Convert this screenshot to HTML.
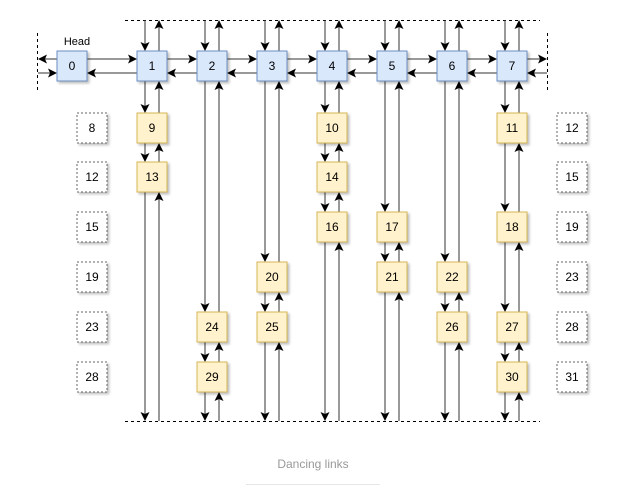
<!DOCTYPE html>
<html><head><meta charset="utf-8"><style>
html,body{margin:0;padding:0;background:#fff;width:643px;height:485px;overflow:hidden}
svg{display:block;font-family:"Liberation Sans",Arial,sans-serif}
</style></head><body>
<svg id="s" width="643" height="485" viewBox="0 0 643 485" xmlns="http://www.w3.org/2000/svg">
<defs>
<marker id="a" markerWidth="9" markerHeight="9" refX="8" refY="4.5" orient="auto" markerUnits="userSpaceOnUse"><path d="M0,0 L9,4.5 L0,9 L2,4.5 Z" fill="#000"/></marker>
<filter id="sh" x="-20%" y="-20%" width="160%" height="160%"><feDropShadow dx="2" dy="2" stdDeviation="1.2" flood-color="#000" flood-opacity="0.25"/></filter>
</defs>
<g stroke="#000" stroke-dasharray="3,3" stroke-width="1" fill="none">
<line x1="125" y1="20.5" x2="540" y2="20.5"/>
<line x1="125" y1="421.5" x2="540" y2="421.5"/>
<line x1="37.5" y1="33" x2="37.5" y2="91"/>
<line x1="547.5" y1="33" x2="547.5" y2="91"/>
</g>
<g id="L" stroke="#333" stroke-width="1" fill="none"></g>
<g id="B"></g>
<text x="77" y="45" font-size="11" text-anchor="middle" fill="#000">Head</text>
<text x="313" y="468" font-size="12" text-anchor="middle" fill="#999">Dancing links</text>
<line x1="246" y1="484.5" x2="380" y2="484.5" stroke="#e6e6e6"/>
</svg>
<script>
const NS="http://www.w3.org/2000/svg";
const L=document.getElementById('L'),B=document.getElementById('B');
function ln(x1,y1,x2,y2){const e=document.createElementNS(NS,'line');e.setAttribute('x1',x1);e.setAttribute('y1',y1);e.setAttribute('x2',x2);e.setAttribute('y2',y2);e.setAttribute('marker-end','url(#a)');L.appendChild(e);}
function box(cx,cy,t,type){
 const r=document.createElementNS(NS,'rect');r.setAttribute('x',cx-15);r.setAttribute('y',cy-15);r.setAttribute('width',30);r.setAttribute('height',30);
 if(type=='h'){r.setAttribute('fill','#dae8fc');r.setAttribute('stroke','#6c8ebf');}
 else if(type=='n'){r.setAttribute('fill','#fff2cc');r.setAttribute('stroke','#d6b656');}
 else {r.setAttribute('fill','#fff');r.setAttribute('stroke','#666');r.setAttribute('stroke-dasharray','2,2');}
 r.setAttribute('filter','url(#sh)');B.appendChild(r);
 const tx=document.createElementNS(NS,'text');tx.setAttribute('x',cx);tx.setAttribute('y',cy+4);tx.setAttribute('font-size','12');tx.setAttribute('text-anchor','middle');tx.textContent=t;B.appendChild(tx);
}
const HY=66, rows=[128,177,227,277,327,377];
const cols=[72,152,212,272,332,392,452,512];
ln(57,59,39,59); ln(38,73,56,73);
for(let i=0;i<7;i++){const a=cols[i]+15,b=cols[i+1]-15;ln(a,59,b-1,59);ln(b,73,a+1,73);}
ln(527,59,546,59); ln(547,73,528,73);
const colNodes={1:[[0,9],[1,13]],2:[[4,24],[5,29]],3:[[3,20],[4,25]],4:[[0,10],[1,14],[2,16]],5:[[2,17],[3,21]],6:[[3,22],[4,26]],7:[[0,11],[2,18],[4,27],[5,30]]};
for(let c=1;c<=7;c++){
 const cx=cols[c],dx=cx-7,ux=cx+7;
 const ys=[HY].concat(colNodes[c].map(n=>rows[n[0]]));
 ln(dx,20,dx,HY-16);
 ln(ux,HY-15,ux,21);
 for(let k=0;k<ys.length-1;k++){ln(dx,ys[k]+15,dx,ys[k+1]-16);ln(ux,ys[k+1]-15,ux,ys[k]+16);}
 const last=ys[ys.length-1];
 ln(dx,last+15,dx,420);ln(ux,421,ux,last+16);
 colNodes[c].forEach(n=>box(cx,rows[n[0]],n[1],'n'));
}
for(let c=0;c<8;c++)box(cols[c],HY,String(c),'h');
[8,12,15,19,23,28].forEach((t,i)=>box(92,rows[i],t,'d'));
[12,15,19,23,28,31].forEach((t,i)=>box(572,rows[i],t,'d'));
</script>
</body></html>
